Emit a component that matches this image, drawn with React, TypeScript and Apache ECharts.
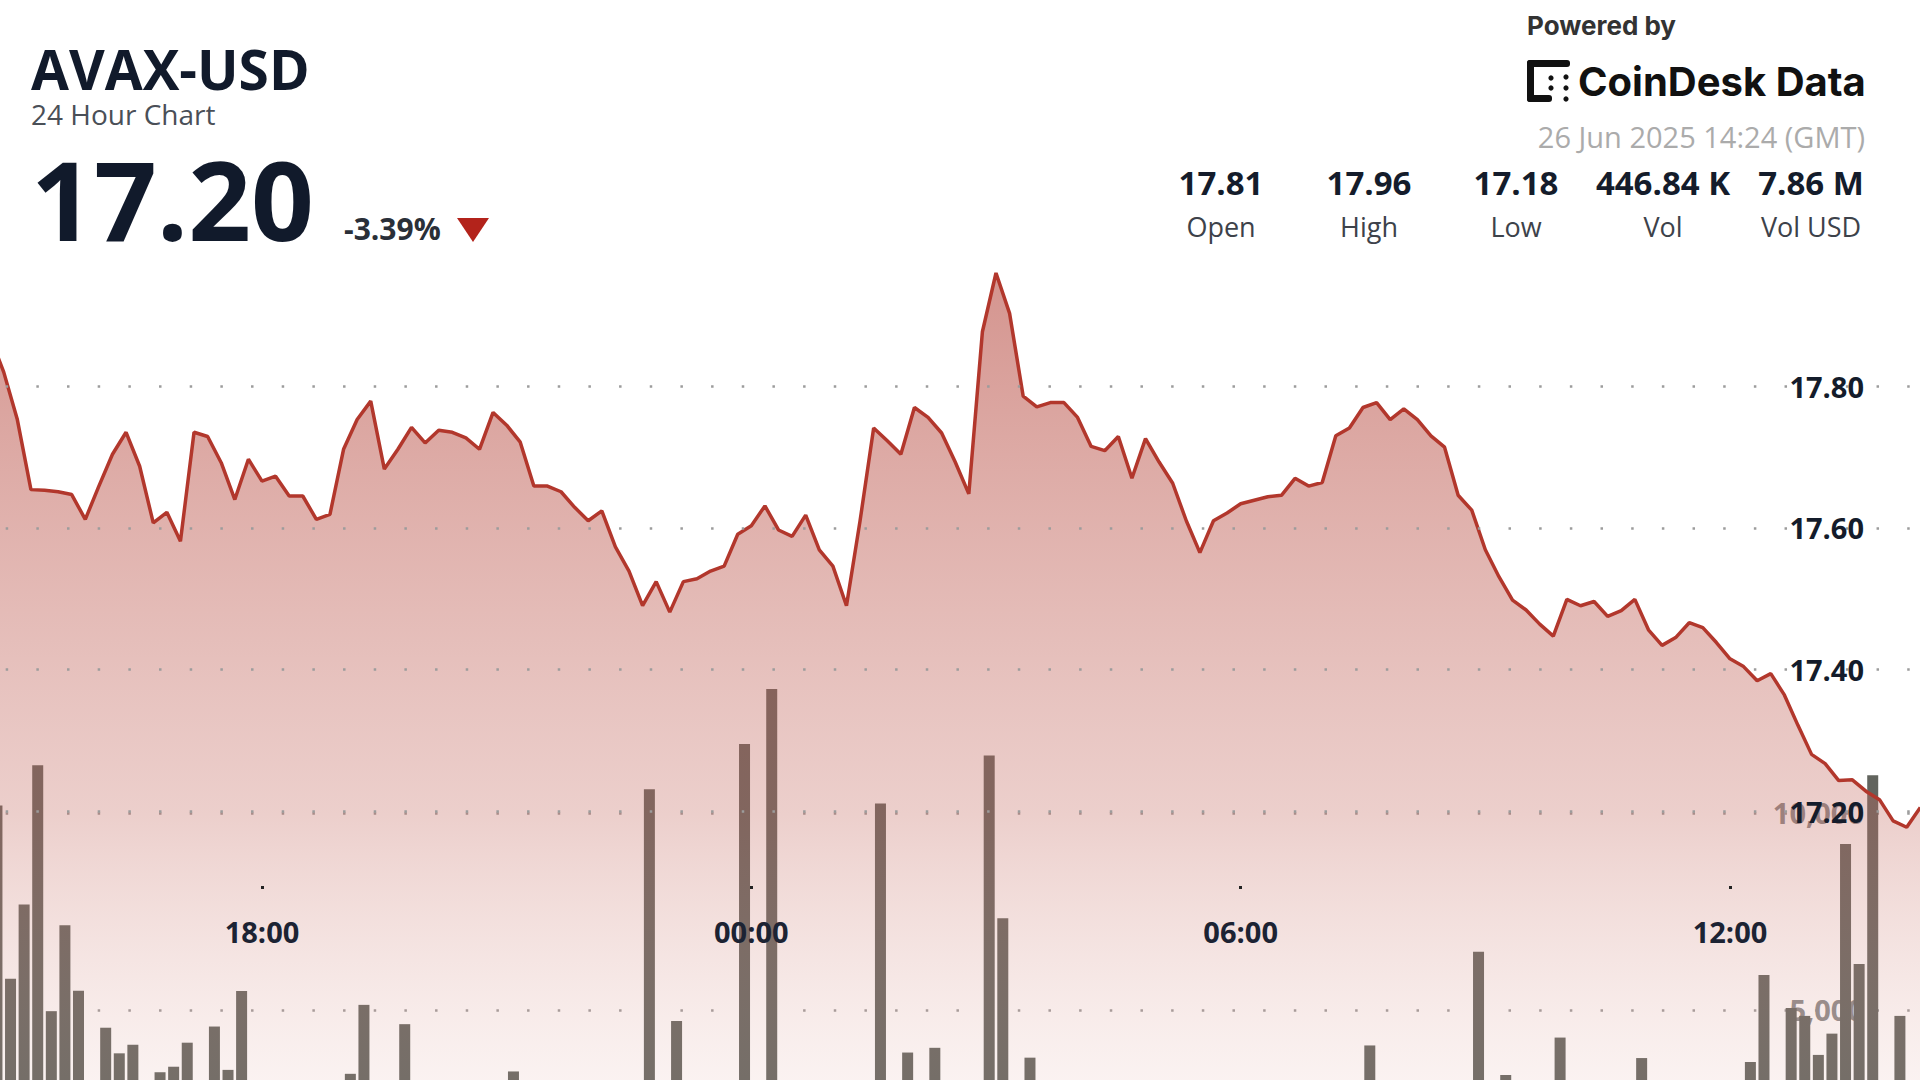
import React, { useEffect, useRef } from "react";
import * as echarts from "echarts";

const FONT = '"Open Sans", "Noto Sans", sans-serif';
const LOGO_FONT = 'Inter, "Open Sans", sans-serif';

const SYMBOL = "AVAX-USD";
const SUBTITLE = "24 Hour Chart";
const LAST_PRICE = "17.20";
const CHANGE = "-3.39%";
const POWERED = "Powered by";
const BRAND = "CoinDesk Data";
const TIMESTAMP = "26 Jun 2025 14:24 (GMT)";
const STAT_VALUES = ["17.81", "17.96", "17.18", "446.84 K", "7.86 M"];
const STAT_LABELS = ["Open", "High", "Low", "Vol", "Vol USD"];

// 10-minute sampling
const STEP_MS = 10 * 60 * 1000;
const PRICE_START = Date.UTC(2025, 5, 25, 14, 40);
const VOLUME_START = Date.UTC(2025, 5, 25, 14, 45);
const AXIS_MIN = Date.UTC(2025, 5, 25, 14, 47, 15);
const AXIS_MAX = Date.UTC(2025, 5, 26, 14, 19, 47);

const TIME_TICKS = [
  Date.UTC(2025, 5, 25, 18, 0),
  Date.UTC(2025, 5, 26, 0, 0),
  Date.UTC(2025, 5, 26, 6, 0),
  Date.UTC(2025, 5, 26, 12, 0),
];
const PRICE_TICKS = [17.2, 17.4, 17.6, 17.8];
const VOLUME_TICKS = [5000, 10000];

const prices = [
  17.870, 17.820, 17.753, 17.654, 17.653, 17.651, 17.647, 17.612, 17.659, 17.704,
  17.735, 17.687, 17.607, 17.622, 17.581, 17.735, 17.729, 17.692, 17.640, 17.697,
  17.666, 17.673, 17.645, 17.645, 17.612, 17.619, 17.711, 17.753, 17.779, 17.683,
  17.711, 17.742, 17.720, 17.738, 17.735, 17.727, 17.711, 17.763, 17.745, 17.721,
  17.659, 17.659, 17.651, 17.629, 17.610, 17.624, 17.573, 17.539, 17.490, 17.524,
  17.481, 17.524, 17.528, 17.539, 17.546, 17.591, 17.603, 17.631, 17.597, 17.588,
  17.618, 17.569, 17.546, 17.490, 17.610, 17.741, 17.723, 17.704, 17.770, 17.756,
  17.734, 17.693, 17.648, 17.877, 17.960, 17.903, 17.786, 17.771, 17.777, 17.777,
  17.756, 17.715, 17.709, 17.729, 17.670, 17.726, 17.693, 17.663, 17.610, 17.565,
  17.610, 17.621, 17.634, 17.639, 17.644, 17.646, 17.670, 17.659, 17.664, 17.730,
  17.741, 17.770, 17.777, 17.753, 17.768, 17.753, 17.730, 17.714, 17.646, 17.625,
  17.569, 17.531, 17.498, 17.484, 17.464, 17.447, 17.499, 17.490, 17.496, 17.475,
  17.483, 17.499, 17.456, 17.434, 17.445, 17.466, 17.459, 17.438, 17.415, 17.404,
  17.384, 17.394, 17.364, 17.321, 17.280, 17.267, 17.243, 17.244, 17.228, 17.216,
  17.186, 17.177, 17.205,
];

const volumes = [
  10190, 5790, 7680, 11210, 4970, 7150, 5490, 2100, 4550, 3900,
  4120, 1500, 3420, 3560, 4170, 2300, 4580, 3480, 5480, 1200,
  900, 1600, 2200, 800, 1300, 2500, 3380, 5130, 1900, 2700,
  4640, 1100, 600, 1500, 2000, 900, 1300, 2400, 3440, 1700,
  800, 1200, 500, 1900, 2600, 1400, 2200, 3000, 10600, 2800,
  4720, 1600, 2300, 1100, 2900, 11750, 3100, 13150, 2500, 1800,
  900, 1400, 2700, 3100, 2900, 10240, 2400, 3920, 2100, 4040,
  1500, 2000, 2600, 11460, 7330, 2800, 3790, 1900, 1300, 800,
  1100, 1700, 900, 1400, 700, 1200, 1800, 2300, 1000, 800,
  600, 900, 500, 700, 1100, 800, 1300, 2600, 1900, 2200,
  1500, 4100, 1700, 1100, 1600, 2100, 1800, 2900, 1900, 6480,
  1900, 3350, 1300, 2200, 2600, 4300, 1500, 1200, 1800, 900,
  1400, 3780, 1600, 1100, 900, 1300, 1700, 2000, 3000, 3680,
  5890, 2900, 5050, 4850, 3860, 4400, 9210, 6170, 10960, 3100,
  4850, 2400, 3000,
];

// visible window of each value axis (the panels run off the bottom edge)
const PRICE_MIN = 16.82;
const PRICE_MAX = 18.0;
const VOLUME_MIN = 3223;
const VOLUME_MAX = 15000;

const STAT_CENTERS = [1221, 1369, 1516, 1663, 1811];

function hhmm(v: number): string {
  const d = new Date(v);
  return String(d.getUTCHours()).padStart(2, "0") + ":" + String(d.getUTCMinutes()).padStart(2, "0");
}

function buildGraphic(): any[] {
  const els: any[] = [];
  const txt = (text: string, x: number, y: number, size: number, weight: string, family: string, fill: string, align = "left") => ({
    type: "text",
    x,
    y,
    silent: true,
    style: {
      text,
      font: `${weight} ${size}px ${family}`,
      fill,
      textAlign: align,
      textVerticalAlign: "middle",
      lineHeight: Math.round(size * 0.8),
    },
  });
  els.push(txt(SYMBOL, 31, 68, 55, "bold", FONT, "#111a2b"));
  els.push(txt(SUBTITLE, 31, 114, 28, "normal", FONT, "#4a4f57"));
  els.push(txt(LAST_PRICE, 31, 198, 110, "bold", FONT, "#111a2b"));
  els.push(txt(CHANGE, 344, 228, 30, "bold", FONT, "#2a2f38"));
  els.push({
    type: "polygon",
    silent: true,
    shape: { points: [[457, 218], [489, 218], [473, 242]] },
    style: { fill: "#b3231b" },
  });
  els.push(txt(POWERED, 1527, 25, 26, "bold", LOGO_FONT, "#333333"));
  const mark = "#111111";
  els.push({ type: "rect", silent: true, shape: { x: 1527, y: 60, width: 43, height: 7, r: 3 }, style: { fill: mark } });
  els.push({ type: "rect", silent: true, shape: { x: 1527, y: 60, width: 7, height: 42, r: 3 }, style: { fill: mark } });
  els.push({ type: "rect", silent: true, shape: { x: 1527, y: 95, width: 25, height: 7, r: 3 }, style: { fill: mark } });
  [[1551, 78], [1551, 88], [1566, 77], [1566, 88], [1566, 99]].forEach(([cx, cy]) =>
    els.push({ type: "circle", silent: true, shape: { cx, cy, r: 2.6 }, style: { fill: mark } })
  );
  els.push(txt(BRAND, 1578, 81, 40, "bold", LOGO_FONT, "#111111"));
  els.push(txt(TIMESTAMP, 1865, 136, 29, "normal", FONT, "#ababab", "right"));
  STAT_VALUES.forEach((v, i) => els.push(txt(v, STAT_CENTERS[i], 182, 33, "bold", FONT, "#141c2b", "center")));
  STAT_LABELS.forEach((v, i) => els.push(txt(v, STAT_CENTERS[i], 226, 27, "normal", FONT, "#3d424a", "center")));
  return els;
}

export default function App() {
  const ref = useRef<HTMLDivElement>(null);

  useEffect(() => {
    document.body.style.margin = "0";
    if (!ref.current) return;
    const chart = echarts.init(ref.current, undefined, { renderer: "svg" });

    const priceData = prices.map((p, j) => [PRICE_START + j * STEP_MS, p]);
    const volumeData = volumes.map((v, i) => [VOLUME_START + i * STEP_MS, v]);

    const gridDots = {
      show: true,
      lineStyle: { color: "#9c9c9c", width: 2.5, type: [2.5, 28.17], dashOffset: 25.17 },
    };

    const areaGradient = new echarts.graphic.LinearGradient(
      0, 245, 0, 1094,
      [
        { offset: 0, color: "rgba(180,68,58,0.84)" },
        { offset: 0.67, color: "rgba(196,106,96,0.46)" },
        { offset: 1, color: "rgba(226,172,164,0.2)" },
      ],
      true
    );

    const hiddenX = (gridIndex: number) => ({
      gridIndex,
      type: "value",
      min: AXIS_MIN,
      max: AXIS_MAX,
      show: false,
      splitLine: { show: false },
    });

    const option: any = {
      animation: false,
      backgroundColor: "#ffffff",
      textStyle: { fontFamily: FONT },
      grid: [
        { left: 0, right: 0, top: 244.7, bottom: 0 },
        { left: 0, right: 0, top: 616, bottom: 0 },
        { left: 0, right: 0, top: 800, height: 86 },
      ],
      xAxis: [
        hiddenX(0),
        hiddenX(1),
        {
          gridIndex: 2,
          type: "value",
          min: AXIS_MIN,
          max: AXIS_MAX,
          z: 3,
          axisLine: { show: false },
          axisTick: { show: true, customValues: TIME_TICKS, length: 3, lineStyle: { color: "#222222", width: 3 } },
          axisLabel: {
            customValues: TIME_TICKS,
            formatter: (v: number) => hhmm(v),
            margin: 31,
            color: "#1c2333",
            fontSize: 29,
            fontWeight: "bold",
            fontFamily: FONT,
          },
          splitLine: { show: false },
        },
      ],
      yAxis: [
        {
          gridIndex: 0,
          type: "value",
          min: PRICE_MIN,
          max: PRICE_MAX,
          position: "right",
          z: 3,
          axisLine: { show: false },
          axisTick: { show: false, customValues: PRICE_TICKS },
          axisLabel: {
            inside: true,
            customValues: PRICE_TICKS,
            margin: 56,
            formatter: (v: number) => v.toFixed(2),
            color: "#141c2b",
            fontSize: 29,
            fontWeight: "bold",
            fontFamily: FONT,
          },
          splitLine: gridDots,
        },
        {
          gridIndex: 1,
          type: "value",
          min: VOLUME_MIN,
          max: VOLUME_MAX,
          position: "right",
          z: 0,
          axisLine: { show: false },
          axisTick: { show: false, customValues: VOLUME_TICKS },
          axisLabel: {
            inside: true,
            customValues: VOLUME_TICKS,
            margin: 56,
            formatter: (v: number) => v.toLocaleString("en-US"),
            color: "#8a8a8a",
            fontSize: 29,
            fontWeight: "bold",
            fontFamily: FONT,
          },
          splitLine: gridDots,
        },
        { gridIndex: 2, type: "value", show: false, splitLine: { show: false } },
      ],
      series: [
        {
          type: "bar",
          xAxisIndex: 1,
          yAxisIndex: 1,
          data: volumeData,
          barWidth: 11,
          clip: true,
          itemStyle: { color: "#62645e" },
          z: 1,
        },
        {
          type: "line",
          xAxisIndex: 0,
          yAxisIndex: 0,
          data: priceData,
          showSymbol: false,
          symbol: "none",
          clip: true,
          lineStyle: { color: "#b2372c", width: 3.5 },
          areaStyle: { origin: "start", color: areaGradient },
          z: 2,
        },
      ],
      graphic: buildGraphic(),
    };

    chart.setOption(option);
    return () => chart.dispose();
  }, []);

  return <div ref={ref} style={{ width: 1920, height: 1080 }} />;
}
